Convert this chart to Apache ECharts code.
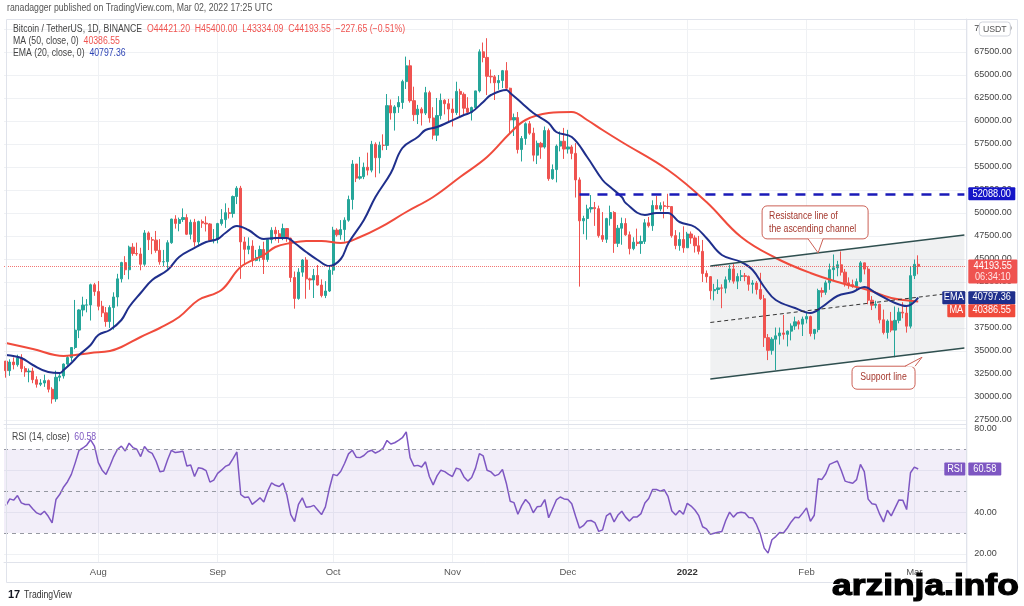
<!DOCTYPE html>
<html><head><meta charset="utf-8">
<script src="https://cdn.jsdelivr.net/npm/echarts@6/dist/echarts.min.js"></script>
<style>html,body{margin:0;padding:0;background:#fff}#c{width:1024px;height:606px}</style>
</head><body><div id="c"></div>
<script>
// ---------- DATA ----------
const startDate = '2021-07-08';
const categoryCount = 250;
const monthLabels = {'2021-08-01':'Aug','2021-09-01':'Sep','2021-10-01':'Oct','2021-11-01':'Nov','2021-12-01':'Dec','2022-01-01':'2022','2022-02-01':'Feb','2022-03-01':'Mar'};
const priceTicks = [27500,30000,32500,35000,37500,40000,42500,45000,47500,50000,52500,55000,57500,60000,62500,65000,67500,70000];
const rsiTicks = [20,40,60,80];

const opens = [
33900,32860,33800,33510,34260,33090,32730,32820,31880,31380,31520,31780,30840,29790,32140,32290,33580,34290,35380,37270,39460,39990,40010,42200,
41460,39860,39150,38200,39720,40870,42840,44610,43830,46290,45600,45550,44430,47830,47100,47050,45940,44690,44710,46770,49340,48870,49290,49500,47690,48990,46850,49070,48900,48810,46990,
47130,48850,49280,50030,49940,51790,52700,46860,46050,46400,44850,45170,46030,44950,47110,48120,47740,47300,48310,47260,42990,40710,43570,44890,42840,42720,43210,42170,41030,41520,
43790,48140,47630,48200,49220,51470,55320,53790,53950,54970,54660,57470,56010,57370,57350,61670,60880,61530,62010,64280,66000,62210,60690,61290,60860,63080,60330,58460,60590,62250,61880,
61300,60910,63220,62900,61390,60940,61470,63270,67520,66910,64860,64800,64160,64400,65470,63560,60110,60370,56900,58100,59700,58680,56290,57570,57170,58960,53730,54720,57270,57800,
56950,57180,56480,53600,49150,49400,50440,50590,50470,47550,47140,49390,50050,46700,48340,48860,47630,46130,46830,46680,46910,48930,48620,50820,50430,50800,50720,50700,47540,46460,47120,
46220,47720,47290,46440,45830,43430,43080,41550,41680,41860,41830,42740,43920,42590,43100,43180,43110,42250,42380,41680,40680,36450,35070,36280,36650,36960,36810,37160,37720,38170,37920,
38470,38740,36900,37330,41570,41380,42410,43840,44040,44370,43570,42410,42220,42050,42540,44580,43900,40520,39970,40080,38390,37010,38250,37270,38330,39220,39120,37700,
43190,44421.20];
const highs = [
33900,34100,34300,34600,34650,33340,33100,33190,32250,31940,32430,31900,31060,32860,32580,33650,34500,35400,40550,39540,40900,40640,42320,42400,
42600,40450,39780,39970,41380,43390,44700,45310,46450,46720,46780,46220,48140,48000,47390,48050,47160,45990,47040,49380,49760,49500,50500,49870,49280,49360,49170,49290,49640,48900,48250,
48930,50420,51050,50560,51900,52920,52950,47400,47350,47040,45990,46450,46880,47250,48450,48500,48150,48840,48370,47330,43640,44000,44990,45200,42970,43920,44350,42790,42590,44130,
48500,48340,49230,49530,51890,55750,55330,56100,55480,56560,57840,57680,57750,58550,62930,62340,61720,62700,64490,67000,66640,63730,61750,61490,63710,63290,61500,62500,62980,62370,62400,
62430,64270,63500,63110,62590,61560,63290,67790,68530,69000,65600,65000,65000,65550,66400,63620,60810,60980,58370,59850,60000,59270,57870,57730,59400,59180,55280,57450,58870,59250,
59040,57380,57600,53870,49700,50900,51950,51200,50800,50100,49480,50800,50200,48700,49500,49430,47990,47360,48300,47540,49330,49570,51380,51860,51160,51260,52090,50700,48140,47900,48550,
47950,47990,47570,47510,47070,43750,43150,42300,42790,42250,43100,44350,44450,43450,43800,43480,43200,42700,42600,43500,41100,36840,36500,37550,37550,38920,37230,38000,38730,38360,38740,
39270,38850,37400,41770,41900,42660,44500,45490,44800,45820,43920,43000,42760,42880,44770,44600,44200,40970,40460,40130,39500,38430,39250,39840,39700,40300,39880,44230,
44950,45400.00];
const lows = [
32100,32300,33000,33300,32700,32200,31600,31500,31020,31180,31100,30500,29280,29480,31710,32000,33400,33880,35200,36400,38770,39200,38310,41000,
39420,38690,37640,37510,37330,39850,42450,43260,42790,45350,45340,43770,44250,45970,45520,45680,44380,44200,43950,46650,48300,48010,49030,47600,47130,46350,46360,48380,47990,46850,46700,
46700,48630,48380,49400,49500,50970,42840,44400,45520,44140,44750,44740,43370,44690,46690,47010,46750,47050,46870,42500,39600,40570,43070,40680,41650,40760,42100,40830,40750,41410,
43290,47430,47100,46890,49050,50380,53360,53620,53680,54090,54420,53880,54300,56820,56850,60150,58960,60880,61320,63480,62000,60000,59670,59510,60650,59820,58000,57820,60170,60720,59950,
59400,60660,60380,60680,60720,60050,61320,63100,66380,62820,64100,62280,63400,63580,63350,58570,58370,56470,55600,57410,58500,55610,55320,55890,57000,53500,53610,53330,56700,55880,
56460,55840,51680,42000,47700,47100,50040,48600,47320,46850,46750,48630,45670,46300,46550,47520,45500,45950,46400,45560,46630,48420,48060,50420,50190,49420,50450,47320,46060,45900,45680,
46200,46650,45700,45500,42500,42430,40610,40500,41200,39650,41270,42450,42320,41730,42600,42580,41550,41250,41140,40550,35440,34010,34600,32920,35700,36250,35500,36150,37300,37350,36630,
38000,36590,36250,37030,40840,41100,41650,42670,43120,43200,42000,41760,41870,41570,42430,43330,40080,39450,39640,38000,36800,36350,37040,34320,38010,38560,37000,37450,
42820,43334.09];
const closes = [
32860,33800,33510,34260,33090,32730,32820,31880,31380,31520,31780,30840,29790,32140,32290,33580,34290,35380,37270,39460,39990,40010,42200,41460,
39860,39150,38200,39720,40870,42840,44610,43830,46290,45600,45550,44430,47830,47100,47050,45940,44690,44710,46770,49340,48870,49290,49500,47690,48990,46850,49070,48900,48810,46990,47130,
48850,49280,50030,49940,51790,52700,46860,46050,46400,44850,45170,46030,44950,47110,48120,47740,47300,48310,47260,42990,40710,43570,44890,42840,42720,43210,42170,41030,41520,43790,
48140,47630,48200,49220,51470,55320,53790,53950,54970,54660,57470,56010,57370,57350,61670,60880,61530,62010,64280,66000,62210,60690,61290,60860,63080,60330,58460,60590,62250,61880,61300,
60910,63220,62900,61390,60940,61470,63270,67520,66910,64860,64800,64160,64400,65470,63560,60110,60370,56900,58100,59700,58680,56290,57570,57170,58960,53730,54720,57270,57800,56950,
57180,56480,53600,49150,49400,50440,50590,50470,47550,47140,49390,50050,46700,48340,48860,47630,46130,46830,46680,46910,48930,48620,50820,50430,50800,50720,50700,47540,46460,47120,46220,
47720,47290,46440,45830,43430,43080,41550,41680,41860,41830,42740,43920,42590,43100,43180,43110,42250,42380,41680,40680,36450,35070,36280,36650,36960,36810,37160,37720,38170,37920,38470,
38740,36900,37330,41570,41380,42410,43840,44040,44370,43570,42410,42220,42050,42540,44580,43900,40520,39970,40080,38390,37010,38250,37270,38330,39220,39120,37700,43190,
44420,44193.55];

const ma50 = [['2021-07-08',35870],['2021-07-15',35217],['2021-07-23',34457],['2021-07-26',34565],['2021-07-30',34783],['2021-08-04',35000],['2021-08-07',35435],['2021-08-12',36522],['2021-08-17',37500],['2021-08-22',38696],['2021-08-27',40543],['2021-09-02',41630],['2021-09-07',44130],['2021-09-13',45435],['2021-09-16',46304],['2021-09-20',46739],['2021-09-24',46957],['2021-09-28',46957],['2021-10-03',46739],['2021-10-08',47391],['2021-10-13',48370],['2021-10-20',50109],['2021-10-27',51739],['2021-11-03',53913],['2021-11-10',56087],['2021-11-16',58696],['2021-11-20',60109],['2021-11-26',60870],['2021-12-02',60978],['2021-12-06',60109],['2021-12-10',59022],['2021-12-15',57717],['2021-12-27',54674],['2022-01-06',51196],['2022-01-15',47391],['2022-01-24',45109],['2022-02-02',43478],['2022-02-10',42391],['2022-02-17',41630],['2022-02-23',40761],['2022-03-02',40386.55]];
const ema20 = [['2021-07-08',34565],['2021-07-12',34240],['2021-07-15',33478],['2021-07-19',32717],['2021-07-22',32609],['2021-07-23',32935],['2021-07-25',33696],['2021-07-27',34565],['2021-07-30',35652],['2021-08-01',36739],['2021-08-04',37283],['2021-08-07',38370],['2021-08-09',39783],['2021-08-12',41304],['2021-08-15',42717],['2021-08-19',43804],['2021-08-22',45217],['2021-08-26',46196],['2021-08-29',46848],['2021-09-01',47174],['2021-09-03',47826],['2021-09-06',48587],['2021-09-09',48152],['2021-09-13',47174],['2021-09-16',47283],['2021-09-19',47283],['2021-09-21',46739],['2021-09-24',45761],['2021-09-27',44891],['2021-09-30',44239],['2021-10-03',45000],['2021-10-05',46739],['2021-10-09',49239],['2021-10-12',51739],['2021-10-16',54348],['2021-10-19',57065],['2021-10-23',58261],['2021-10-25',59022],['2021-10-28',59348],['2021-10-31',59891],['2021-11-04',60652],['2021-11-06',60978],['2021-11-09',62065],['2021-11-11',62826],['2021-11-15',63370],['2021-11-16',63043],['2021-11-19',61957],['2021-11-22',60870],['2021-11-26',59783],['2021-11-28',58804],['2021-12-02',58261],['2021-12-06',56087],['2021-12-10',53587],['2021-12-12',52826],['2021-12-15',51739],['2021-12-16',51087],['2021-12-21',49783],['2021-12-24',50000],['2021-12-27',50000],['2021-12-30',49022],['2022-01-03',48478],['2022-01-06',47283],['2022-01-10',45435],['2022-01-15',44674],['2022-01-18',43804],['2022-01-21',41957],['2022-01-24',40543],['2022-01-29',39674],['2022-02-02',39130],['2022-02-05',39783],['2022-02-09',40978],['2022-02-13',41413],['2022-02-16',41957],['2022-02-19',41304],['2022-02-24',40217],['2022-02-27',39891],['2022-03-02',40797.36]];

const rsi14 = [43.1,46.3,45.7,47.9,44.4,43.6,43.6,41.5,39.6,38.8,
40.4,38,34.8,46,48.5,52,54.5,58,63.5,69.5,
70.6,72,74.5,71.5,63.6,60,58,62,66.5,70,
71.5,69.2,72.9,70.8,70,66.5,71.3,69,68,64.4,
59.3,59.6,65,69.5,68.4,68.7,69,62,62.5,57,
61.2,60.8,59.8,54.3,55.3,58.5,60,61.8,62.6,65.5,
68.7,48.4,47,47.2,43.7,45.2,46.8,44.8,50,53.9,
52.8,52.2,53.8,48,38.8,35.5,43.7,46.8,42.3,42.5,
43.2,41,38.8,42.5,51,58,57.4,59.5,63.3,67.8,
69.5,66.2,66,67,68.8,69.5,68.2,69.1,70.5,74.2,
72.5,73.1,74.2,75.5,78.3,66,62,62.3,61.5,64,
57,53,57.3,60,59.3,58,57,61,60.4,56.8,
54.8,56.5,61,67.9,66.8,60,59.2,57.3,58,60.3,
53.8,45.2,44.5,39,43.1,46,44,39.7,42.5,42.8,
46,37.3,41.5,45.8,47.2,46.3,46,44,38,32.4,
33.5,35.7,36,35,30.8,31.5,38.2,39.5,35.3,38.6,
40.4,37.6,35.7,37.7,37.7,39.3,44.3,46.5,50.8,50.8,
50,50.7,47.5,40.5,38.6,40.8,39,44.2,42.9,41,
38.3,33,32,29.4,29.9,30.4,30.7,36,40,37.6,
39.6,39.9,39.6,37.4,37.2,34,29.5,22.8,20.4,26.8,
28.3,30.3,30,32.4,35.3,37.5,37.3,39.5,42,35.6,
38.5,55.9,55.6,58.3,62.8,63.6,64.4,60,54.8,54.2,
53.8,55.5,62.8,59.3,46.2,44,43.6,39,35.3,40.9,
38.2,42,45.8,45.7,41.2,58.8,61.5,60.58];

const resistanceLine = [['2022-01-07',44240],['2022-03-14',47600]];
const supportLine = [['2022-01-07',31960],['2022-03-14',35320]];
const middleLine = [['2022-01-07',38100],['2022-03-14',41460]];
const levelValue = 52088;
const levelStart = '2021-12-04';
const lastPrice = 44193.55, lastMA = 40386.55, lastEMA = 40797.36, lastRSI = 60.58;

// ---------- BUILD ----------
const cats = [];
const d0 = new Date(startDate + 'T00:00:00Z');
for (let i = 0; i < categoryCount; i++) cats.push(new Date(d0.getTime() + i * 86400000).toISOString().slice(0, 10));
const candles = closes.map((c, i) => [opens[i], c, lows[i], highs[i]]);
const monthDates = Object.keys(monthLabels);

const FONT = '"Liberation Sans", Arial, sans-serif';
const GRID_L = 4, PLOT_W = 962.3, GRID_R = 1024 - GRID_L - PLOT_W;
const UP = '#26a69a', DOWN = '#ef5350';
const GRIDC = '#eff1f4';

const chart = echarts.init(document.getElementById('c'), null, {width: 1024, height: 606});
const option = {
  animation: false,
  backgroundColor: '#ffffff',
  textStyle: {fontFamily: FONT},
  grid: [
    {left: GRID_L, right: GRID_R, top: 19, height: 405},
    {left: GRID_L, right: GRID_R, top: 424, height: 138}
  ],
  xAxis: [
    {type: 'category', gridIndex: 0, data: cats, boundaryGap: true,
     axisLine: {show: true, lineStyle: {color: '#e0e3eb'}}, axisTick: {show: false}, axisLabel: {show: false}, splitLine: {show: false}},
    {type: 'category', gridIndex: 1, data: cats, boundaryGap: true,
     axisLine: {show: true, lineStyle: {color: '#e0e3eb'}}, axisTick: {show: false}, splitLine: {show: false},
     axisLabel: {interval: (i, v) => monthLabels[v] !== undefined,
       formatter: v => monthLabels[v] === '2022' ? '{y|2022}' : (monthLabels[v] || ''),
       color: '#555', fontSize: 9.5, margin: 5, fontFamily: FONT,
       rich: {y: {fontWeight: 'bold', color: '#333', fontSize: 9.5, fontFamily: FONT}}}}
  ],
  yAxis: [
    {type: 'value', gridIndex: 0, position: 'right', min: 27065, max: 71087,
     splitLine: {show: false}, axisTick: {show: false}, axisLine: {show: true, lineStyle: {color: '#e0e3eb'}},
     axisLabel: {customValues: priceTicks, formatter: v => Number(v).toFixed(2), color: '#444', fontSize: 9, margin: 8, fontFamily: FONT}},
    {type: 'value', gridIndex: 1, position: 'right', min: 16.18, max: 82.05,
     splitLine: {show: false}, axisTick: {show: false}, axisLine: {show: true, lineStyle: {color: '#e0e3eb'}},
     axisLabel: {customValues: rsiTicks, formatter: v => Number(v).toFixed(2), color: '#444', fontSize: 9, margin: 8, fontFamily: FONT}}
  ],
  series: [
    {name: 'grid0', type: 'line', xAxisIndex: 0, yAxisIndex: 0, data: [], silent: true,
     markLine: {silent: true, z: 0, symbol: 'none', label: {show: false}, lineStyle: {color: GRIDC, width: 1, type: 'solid'},
       data: priceTicks.map(v => ({yAxis: v})).concat(monthDates.map(d => ({xAxis: d})))}},
    {name: 'grid1', type: 'line', xAxisIndex: 1, yAxisIndex: 1, data: [], silent: true,
     markLine: {silent: true, z: 0, symbol: 'none', label: {show: false}, lineStyle: {color: GRIDC, width: 1, type: 'solid'},
       data: rsiTicks.map(v => ({yAxis: v})).concat(monthDates.map(d => ({xAxis: d})))}},
    {name: 'channelFill', type: 'custom', xAxisIndex: 0, yAxisIndex: 0, silent: true, z: 1,
     data: [resistanceLine[0]],
     renderItem: (params, api) => {
       const pts = [api.coord(resistanceLine[0]), api.coord(resistanceLine[1]), api.coord(supportLine[1]), api.coord(supportLine[0])];
       return {type: 'polygon', shape: {points: pts}, style: {fill: 'rgba(170,175,185,0.18)'}};
     }},
    {name: 'BTCUSDT', type: 'candlestick', xAxisIndex: 0, yAxisIndex: 0, data: candles, barWidth: '70%', z: 2,
     itemStyle: {color: UP, color0: DOWN, borderColor: UP, borderColor0: DOWN, borderWidth: 1},
     markLine: {silent: true, symbol: 'none', label: {show: false},
       data: [
         {yAxis: lastPrice, lineStyle: {type: 'dotted', color: '#ef5350', width: 1, opacity: 0.8}},
         [{coord: [levelStart, levelValue], lineStyle: {type: [10, 8], color: '#1a1ab8', width: 2.5}}, {coord: [cats[cats.length - 1], levelValue]}]
       ]}},
    {name: 'MA', type: 'line', xAxisIndex: 0, yAxisIndex: 0, data: ma50, smooth: 0.4, symbol: 'none', z: 3,
     lineStyle: {color: '#f04b3c', width: 2}},
    {name: 'EMA', type: 'line', xAxisIndex: 0, yAxisIndex: 0, data: ema20, smooth: 0.4, symbol: 'none', z: 4,
     lineStyle: {color: '#1f2f8c', width: 2}},
    {name: 'resistance', type: 'line', xAxisIndex: 0, yAxisIndex: 0, data: resistanceLine, symbol: 'none', z: 5,
     lineStyle: {color: '#2f4f4f', width: 1.5}},
    {name: 'support', type: 'line', xAxisIndex: 0, yAxisIndex: 0, data: supportLine, symbol: 'none', z: 5,
     lineStyle: {color: '#2f4f4f', width: 1.5}},
    {name: 'middle', type: 'line', xAxisIndex: 0, yAxisIndex: 0, data: middleLine, symbol: 'none', z: 5,
     lineStyle: {color: '#333', width: 1, type: [4, 3]}},
    {name: 'RSI', type: 'line', xAxisIndex: 1, yAxisIndex: 1, data: rsi14, symbol: 'none', z: 4,
     lineStyle: {color: '#7e57c2', width: 1.5},
     markArea: {silent: true, itemStyle: {color: 'rgba(126,87,194,0.1)'}, data: [[{yAxis: 30}, {yAxis: 70}]]},
     markLine: {silent: true, symbol: 'none', label: {show: false}, lineStyle: {color: '#9598a1', width: 1, type: [4, 4]},
       data: [{yAxis: 70}, {yAxis: 50}, {yAxis: 30}]}}
  ]
};
chart.setOption(option);

// ---------- OVERLAY (labels, tags, callouts) ----------
const yP = v => chart.convertToPixel({yAxisIndex: 0}, v);
const yR = v => chart.convertToPixel({yAxisIndex: 1}, v);
const pt = p => chart.convertToPixel({gridIndex: 0}, p);
const axisX = GRID_L + PLOT_W;
const g = [];
const F = s => s + 'px ' + FONT;
const SX = 0.87;

function txt(x, y, text, opts) {
  opts = opts || {};
  g.push({type: 'text', z: opts.z || 101, x: x, y: y, scaleX: opts.sx || SX, scaleY: 1,
    style: Object.assign({x: 0, y: 0, text: text, fill: '#444', font: F(10), align: 'left', verticalAlign: 'middle'}, opts.style || {})});
}
function tag(x, yc, w, h, t, bg) {
  g.push({type: 'rect', z: 100, shape: {x: x, y: yc - h / 2, width: w, height: h, r: 1}, style: {fill: bg}});
  txt(x + w / 2, yc, t, {sx: 0.92, style: {fill: '#fff', align: 'center', font: F(10)}});
}
// frame
g.push({type: 'rect', z: 90, shape: {x: 6.5, y: 19.5, width: 1011, height: 563}, style: {fill: 'none', stroke: '#e0e3eb', lineWidth: 1}});
g.push({type: 'line', z: 90, shape: {x1: axisX + 0.5, y1: 19, x2: axisX + 0.5, y2: 582}, style: {stroke: '#e0e3eb', lineWidth: 1}});

// price tags
tag(axisX + 2, yP(levelValue), 47, 13, levelValue.toFixed(2), '#1515c8');
const yc = yP(lastPrice);
g.push({type: 'rect', z: 100, shape: {x: axisX + 2, y: yc - 7, width: 49, height: 24, r: 1}, style: {fill: '#ef5350'}});
txt(axisX + 26.5, yc, lastPrice.toFixed(2), {sx: 0.92, style: {fill: '#fff', align: 'center'}});
txt(axisX + 26.5, yc + 11, '06:34:10', {sx: 0.92, style: {fill: '#ffe4e4', align: 'center'}});
const yE = yP(lastEMA), yM = Math.max(yP(lastMA), yE + 13);
tag(axisX - 24, yE, 23, 13, 'EMA', '#1f2f8c');
tag(axisX + 2, yE, 47, 13, lastEMA.toFixed(2), '#1f2f8c');
tag(axisX - 19, yM, 18, 13, 'MA', '#f04b3c');
tag(axisX + 2, yM, 47, 13, lastMA.toFixed(2), '#f04b3c');
const yRs = yR(lastRSI);
tag(axisX - 22, yRs, 21, 13, 'RSI', '#7e57c2');
tag(axisX + 2, yRs, 33, 13, lastRSI.toFixed(2), '#7e57c2');
// USDT box
g.push({type: 'rect', z: 100, shape: {x: axisX + 13, y: yP(70000) - 7, width: 31, height: 14, r: 3}, style: {fill: '#fff', stroke: '#d1d4dc', lineWidth: 1}});
txt(axisX + 28.5, yP(70000), 'USDT', {sx: 0.92, style: {fill: '#555', align: 'center', font: F(9.5)}});

// header texts
txt(7, 8, 'ranadagger published on TradingView.com, Mar 02, 2022 17:25 UTC', {style: {fill: '#555'}});
const rich = {n: {fill: '#444', font: F(10)}, r: {fill: '#ef5350', font: F(10)}, b: {fill: '#2f45b5', font: F(10)}, p: {fill: '#7e57c2', font: F(10)}};
txt(13, 29, '{n|Bitcoin / TetherUS, 1D, BINANCE}  {r|O' + opens[opens.length - 1].toFixed(2) + '  H' + highs[highs.length - 1].toFixed(2) + '  L' + lows[lows.length - 1].toFixed(2) + '  C' + lastPrice.toFixed(2) + '  \u2212227.65 (\u22120.51%)}', {style: {rich: rich}});
txt(13, 41, '{n|MA (50, close, 0)}  {r|' + lastMA.toFixed(2) + '}', {style: {rich: rich}});
txt(13, 53, '{n|EMA (20, close, 0)}  {b|' + lastEMA.toFixed(2) + '}', {style: {rich: rich}});
txt(12, 437, '{n|RSI (14, close)}  {p|' + lastRSI.toFixed(2) + '}', {style: {rich: rich}});

// callouts
const CB = '#cc6156', CT = '#a5392f';
const r0 = pt(resistanceLine[0]), r1 = pt(resistanceLine[1]);
const s0 = pt(supportLine[0]), s1 = pt(supportLine[1]);
const lerp = (a, b, t) => [a[0] + (b[0] - a[0]) * t, a[1] + (b[1] - a[1]) * t];
const tipR = lerp(r0, r1, 28 / 66);
const bx = tipR[0] - 56, by = tipR[1] - 47, bw = 106, bh = 33;
g.push({type: 'rect', z: 110, shape: {x: bx, y: by, width: bw, height: bh, r: 5}, style: {fill: '#fff', stroke: CB, lineWidth: 1}});
g.push({type: 'polygon', z: 111, shape: {points: [[tipR[0] - 10, by + bh - 0.5], [tipR[0] + 5, by + bh - 0.5], tipR]}, style: {fill: '#fff'}});
g.push({type: 'polyline', z: 112, shape: {points: [[tipR[0] - 10, by + bh], tipR, [tipR[0] + 5, by + bh]]}, style: {stroke: CB, lineWidth: 1, fill: 'none'}});
txt(bx + 7, by + 10, 'Resistance line of', {z: 112, style: {fill: CT}});
txt(bx + 7, by + 23, 'the ascending channel', {z: 112, style: {fill: CT}});

const tipS0 = lerp(s0, s1, 55 / 66);
const tipS = [tipS0[0], tipS0[1] + 4];
const sx = tipS[0] - 70, sy = tipS[1] + 9, sw = 63, sh = 23;
g.push({type: 'rect', z: 110, shape: {x: sx, y: sy, width: sw, height: sh, r: 5}, style: {fill: '#fff', stroke: CB, lineWidth: 1}});
g.push({type: 'polygon', z: 111, shape: {points: [[tipS[0] - 17, sy + 0.5], [tipS[0] - 7, sy + 0.5], tipS]}, style: {fill: '#fff'}});
g.push({type: 'polyline', z: 112, shape: {points: [[tipS[0] - 17, sy], tipS, [tipS[0] - 7, sy]]}, style: {stroke: CB, lineWidth: 1, fill: 'none'}});
txt(sx + sw / 2, sy + sh / 2, 'Support line', {z: 112, style: {fill: CT, align: 'center'}});

// footer
txt(8, 595, '17', {sx: 1, style: {fill: '#131722', font: 'bold 11px ' + FONT}});
txt(24, 595, 'TradingView', {style: {fill: '#333'}});
g.push({type: 'text', z: 120, x: 832, y: 587, scaleX: 1.22, scaleY: 1,
  style: {x: 0, y: 0, text: 'arzinja.info', fill: '#000', stroke: '#000', lineWidth: 1.2, font: 'bold 29px "Liberation Sans", Arial, sans-serif', align: 'left', verticalAlign: 'middle'}});

chart.setOption({graphic: {elements: g}});
</script>
</body></html>
